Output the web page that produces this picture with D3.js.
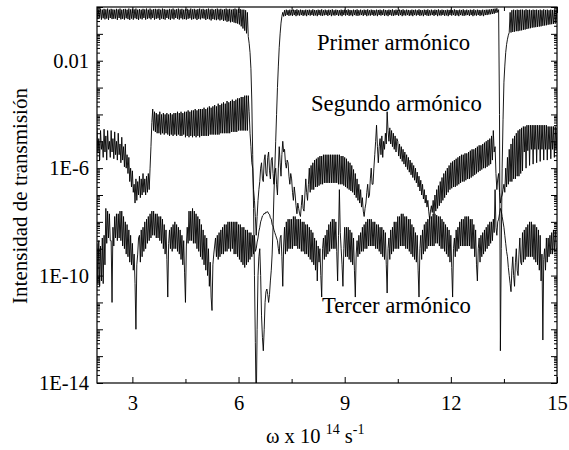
<!DOCTYPE html>
<html><head><meta charset="utf-8">
<script src="https://cdn.jsdelivr.net/npm/d3@7"></script>
<style>
body{margin:0;background:#fff}
svg{display:block}
text{font-family:"Liberation Serif","Times New Roman",serif;fill:#000}
</style>
</head><body>
<svg id="chart" width="569" height="450"></svg>
<script>
// ---------- DATA: log10 of transmission intensity; x grid 2.000 .. 15.000, step 0.025 ----------
const xStart = 2, xStep = 0.025;
const primerLog10 = [
-0.08,-0.45,-0.1,-0.4,-0.06,-0.47,-0.1,-0.42,-0.07,-0.46,-0.09,-0.43,-0.06,-0.48,-0.1,-0.41,-0.07,-0.45,-0.09,-0.44,
-0.1,-0.43,-0.07,-0.48,-0.09,-0.41,-0.06,-0.46,-0.1,-0.44,-0.08,-0.47,-0.07,-0.42,-0.1,-0.45,-0.06,-0.48,-0.09,-0.43,
-0.07,-0.47,-0.09,-0.42,-0.06,-0.45,-0.1,-0.48,-0.08,-0.43,-0.1,-0.46,-0.07,-0.41,-0.09,-0.47,-0.06,-0.44,-0.1,-0.42,
-0.06,-0.46,-0.1,-0.41,-0.08,-0.47,-0.07,-0.44,-0.09,-0.42,-0.07,-0.48,-0.1,-0.43,-0.06,-0.45,-0.08,-0.47,-0.1,-0.41,
-0.1,-0.45,-0.07,-0.48,-0.09,-0.43,-0.06,-0.46,-0.1,-0.41,-0.08,-0.44,-0.06,-0.47,-0.09,-0.42,-0.07,-0.46,-0.1,-0.45,
-0.08,-0.47,-0.07,-0.44,-0.1,-0.42,-0.06,-0.47,-0.09,-0.45,-0.07,-0.43,-0.1,-0.48,-0.08,-0.44,-0.06,-0.46,-0.09,-0.42,
-0.07,-0.43,-0.1,-0.48,-0.08,-0.44,-0.06,-0.46,-0.09,-0.5,-0.07,-0.45,-0.1,-0.47,-0.08,-0.49,-0.06,-0.46,-0.09,-0.5,
-0.07,-0.47,-0.1,-0.52,-0.08,-0.5,-0.06,-0.55,-0.09,-0.53,-0.07,-0.57,-0.1,-0.55,-0.08,-0.58,-0.06,-0.6,-0.09,-0.62,
-0.07,-0.65,-0.08,-0.72,-0.1,-0.8,-0.1,-0.88,-0.12,-0.98,-0.2,-1.1,-1.35,-1.7,-2.3,-3.5,-5.5,-7.5,-10,-12.5,
-15,-12,-10.0,-9.3,-9.0,-10.0,-11.5,-12.3,-12.8,-12.0,-11.0,-10.6,-10.5,-10.7,-11.0,-10.7,-10.2,-9.8,-9.2,-8.2,
-7.0,-6.0,-5.0,-4.0,-3.0,-2.2,-1.5,-1.0,-0.6,-0.35,-0.2,-0.35,-0.12,-0.33,-0.1,-0.3,-0.12,-0.33,-0.1,-0.31,
-0.12,-0.33,-0.1,-0.3,-0.11,-0.34,-0.09,-0.31,-0.12,-0.32,-0.1,-0.3,-0.11,-0.33,-0.12,-0.31,-0.1,-0.34,-0.11,-0.3,
-0.1,-0.32,-0.12,-0.3,-0.09,-0.33,-0.11,-0.31,-0.12,-0.34,-0.1,-0.3,-0.11,-0.32,-0.09,-0.33,-0.12,-0.31,-0.1,-0.3,
-0.12,-0.33,-0.1,-0.3,-0.11,-0.34,-0.09,-0.31,-0.12,-0.32,-0.1,-0.3,-0.11,-0.33,-0.12,-0.31,-0.1,-0.34,-0.11,-0.3,
-0.1,-0.32,-0.12,-0.3,-0.09,-0.33,-0.11,-0.31,-0.12,-0.34,-0.1,-0.3,-0.11,-0.32,-0.09,-0.33,-0.12,-0.31,-0.1,-0.3,
-0.12,-0.33,-0.1,-0.3,-0.11,-0.34,-0.09,-0.31,-0.12,-0.32,-0.1,-0.3,-0.11,-0.33,-0.12,-0.31,-0.1,-0.34,-0.11,-0.3,
-0.1,-0.32,-0.12,-0.3,-0.09,-0.33,-0.11,-0.31,-0.12,-0.34,-0.1,-0.3,-0.11,-0.32,-0.09,-0.33,-0.12,-0.31,-0.1,-0.3,
-0.12,-0.33,-0.1,-0.3,-0.11,-0.34,-0.09,-0.31,-0.12,-0.32,-0.1,-0.3,-0.11,-0.33,-0.12,-0.31,-0.1,-0.34,-0.11,-0.3,
-0.1,-0.32,-0.12,-0.3,-0.09,-0.33,-0.11,-0.31,-0.12,-0.34,-0.1,-0.3,-0.11,-0.32,-0.09,-0.33,-0.12,-0.31,-0.1,-0.3,
-0.12,-0.33,-0.1,-0.3,-0.11,-0.34,-0.09,-0.31,-0.12,-0.32,-0.1,-0.3,-0.11,-0.33,-0.12,-0.31,-0.1,-0.34,-0.11,-0.3,
-0.1,-0.32,-0.12,-0.3,-0.09,-0.33,-0.11,-0.31,-0.12,-0.34,-0.1,-0.3,-0.11,-0.32,-0.09,-0.33,-0.12,-0.31,-0.1,-0.3,
-0.12,-0.33,-0.1,-0.3,-0.11,-0.34,-0.09,-0.31,-0.12,-0.32,-0.1,-0.3,-0.11,-0.33,-0.12,-0.31,-0.1,-0.34,-0.11,-0.3,
-0.1,-0.3,-0.1,-0.28,-0.09,-0.27,-0.08,-0.26,-0.07,-0.25,-0.06,-0.22,-0.05,-0.2,-0.1,-4.0,-12.8,-9.0,-6.0,-4.2,
-2.8,-2.2,-1.7,-1.4,-1.2,-1.05,-0.95,-0.2,-0.95,-0.12,-0.93,-0.1,-0.92,-0.12,-0.9,-0.1,-0.9,-0.11,-0.88,-0.1,
-0.87,-0.1,-0.85,-0.12,-0.84,-0.09,-0.82,-0.11,-0.8,-0.1,-0.79,-0.12,-0.77,-0.1,-0.76,-0.11,-0.75,-0.1,-0.74,-0.12,
-0.73,-0.1,-0.72,-0.12,-0.7,-0.09,-0.69,-0.11,-0.68,-0.1,-0.66,-0.12,-0.65,-0.1,-0.64,-0.11,-0.63,-0.1,-0.62,-0.12,
-0.6];
const segundoLog10 = [
-4.5,-5.4,-4.9,-5.7,-4.6,-5.3,-5.0,-5.6,-4.55,-5.4,-4.8,-5.7,-4.6,-5.3,-5.0,-5.6,-4.6,-5.4,-4.9,-5.65,
-4.65,-5.5,-5.0,-5.7,-4.7,-5.5,-5.1,-5.8,-4.85,-5.7,-5.2,-5.95,-5.1,-6.0,-5.5,-6.2,-5.6,-6.5,-6.0,-6.7,
-6.1,-6.9,-6.6,-7.3,-6.4,-7.2,-6.5,-7.0,-6.3,-7.1,-6.4,-7.0,-6.2,-6.9,-6.4,-7.0,-6.3,-6.9,-6.2,-6.8,
-6.0,-5.2,-4.3,-3.8,-4.6,-3.9,-4.65,-3.95,-4.7,-4.0,-4.7,-3.9,-4.75,-4.0,-4.7,-3.95,-4.75,-4.0,-4.7,-3.95,
-4.75,-4.0,-4.8,-3.95,-4.75,-4.0,-4.8,-3.95,-4.75,-3.95,-4.8,-3.9,-4.75,-3.95,-4.8,-3.9,-4.8,-3.95,-4.75,-3.9,
-4.85,-3.9,-4.8,-3.85,-4.85,-3.9,-4.8,-3.85,-4.85,-3.85,-4.8,-3.8,-4.85,-3.85,-4.8,-3.8,-4.85,-3.8,-4.8,-3.8,
-4.8,-3.75,-4.8,-3.8,-4.8,-3.75,-4.8,-3.7,-4.75,-3.75,-4.75,-3.7,-4.75,-3.65,-4.75,-3.7,-4.75,-3.6,-4.75,-3.65,
-4.7,-3.6,-4.7,-3.55,-4.7,-3.6,-4.7,-3.5,-4.7,-3.55,-4.7,-3.5,-4.65,-3.45,-4.65,-3.5,-4.65,-3.45,-4.65,-3.4,
-4.6,-3.4,-4.6,-3.35,-4.6,-3.35,-4.6,-3.3,-4.6,-3.3,-4.6,-3.3,-3.9,-4.7,-5.2,-5.8,-6.0,-6.8,-7.2,-7.8,
-8.5,-7.8,-7.2,-6.8,-6.5,-6.0,-5.8,-6.4,-6.5,-5.7,-5.5,-6.2,-6.3,-5.6,-5.4,-6.1,-6.4,-5.7,-5.6,-6.2,
-6.6,-6.2,-6.0,-6.6,-7.0,-6.0,-5.2,-5.8,-6.3,-5.5,-5.0,-5.4,-5.3,-5.8,-6.0,-5.7,-5.8,-6.3,-6.6,-6.2,
-6.4,-6.9,-7.2,-6.7,-7.0,-7.4,-7.7,-7.3,-7.5,-7.7,-7.8,-7.4,-7.0,-7.5,-7.6,-7.0,-6.4,-6.9,-7.2,-6.6,
-6.0,-6.9,-5.9,-6.8,-5.8,-6.8,-5.7,-6.7,-5.65,-6.7,-5.6,-6.65,-5.55,-6.6,-5.55,-6.6,-5.5,-6.55,-5.5,-6.55,
-5.5,-6.55,-5.5,-6.55,-5.5,-6.55,-5.5,-6.55,-5.5,-6.55,-5.5,-6.55,-5.5,-6.6,-5.5,-6.6,-5.55,-6.6,-5.55,-6.65,
-5.6,-6.7,-5.65,-6.75,-5.75,-6.8,-5.8,-6.85,-5.9,-6.9,-6.05,-7.0,-6.2,-7.1,-6.4,-7.2,-6.6,-7.3,-6.8,-7.45,
-7.1,-7.6,-7.8,-7.5,-7.3,-6.9,-6.6,-7.1,-7.0,-6.4,-6.0,-6.6,-6.6,-6.0,-5.5,-5.0,-4.4,-5.2,-5.8,-5.2,
-4.9,-5.5,-4.8,-5.6,-5.0,-5.3,-4.7,-5.1,-3.9,-4.6,-5.0,-4.5,-5.1,-4.6,-5.2,-4.7,-5.3,-4.8,-5.4,-4.9,
-5.0,-5.55,-5.1,-5.65,-5.2,-5.75,-5.3,-5.85,-5.4,-5.95,-5.5,-6.05,-5.6,-6.15,-5.7,-6.25,-5.8,-6.35,-5.9,-6.45,
-6.0,-6.55,-6.15,-6.7,-6.3,-6.85,-6.45,-7.0,-6.6,-7.15,-6.8,-7.3,-7.0,-7.45,-7.2,-7.6,-7.9,-7.6,-7.4,-7.65,
-7.2,-7.7,-7.0,-7.6,-6.8,-7.5,-6.65,-7.4,-6.5,-7.3,-6.35,-7.2,-6.2,-7.1,-6.1,-7.0,-6.0,-6.9,-5.9,-6.8,
-5.8,-6.75,-5.75,-6.7,-5.7,-6.7,-5.65,-6.65,-5.6,-6.6,-5.55,-6.55,-5.5,-6.5,-5.5,-6.5,-5.45,-6.45,-5.45,-6.4,
-5.4,-6.4,-5.35,-6.35,-5.3,-6.3,-5.3,-6.25,-5.25,-6.2,-5.2,-6.15,-5.15,-6.1,-5.15,-6.05,-5.1,-6.0,-5.05,-6.0,
-5.0,-5.95,-4.95,-5.9,-4.9,-5.85,-4.8,-5.7,-4.6,-5.4,-5.2,-6.2,-6.8,-6.4,-6.2,-6.9,-7.3,-7.1,-7.0,-6.8,
-6.6,-6.9,-6.0,-6.7,-5.6,-6.6,-5.3,-6.5,-5.1,-6.5,-4.9,-6.4,-4.8,-6.4,-4.7,-6.3,-4.6,-6.3,-4.55,-6.2,
-4.5,-6.1,-4.45,-5.4,-4.45,-6.0,-4.4,-5.35,-4.4,-5.9,-4.4,-5.3,-4.4,-5.85,-4.4,-5.3,-4.4,-5.8,-4.4,-5.3,
-4.4,-5.75,-4.4,-5.3,-4.4,-5.7,-4.4,-5.3,-4.4,-5.7,-4.45,-5.3,-4.45,-5.65,-4.45,-5.3,-4.45,-5.6,-4.45,-5.3,
-4.5];
const tercerLog10 = [
-8.8,-10.3,-8.7,-10.4,-8.9,-10.2,-8.6,-10.3,-8.5,-9.6,-7.5,-8.8,-7.6,-8.6,-7.7,-8.7,-8.7,-11.0,-8.2,-8.9,
-7.8,-8.6,-7.7,-8.7,-7.7,-8.6,-7.6,-8.7,-7.6,-8.9,-7.8,-9.0,-8.0,-9.2,-8.1,-9.3,-8.3,-9.5,-8.5,-9.6,
-8.8,-9.8,-9.2,-10.3,-12.0,-9.6,-9.2,-8.6,-8.5,-9.5,-8.3,-9.3,-8.2,-9.1,-8.0,-9.0,-7.9,-8.8,-7.8,-8.7,
-7.7,-8.6,-7.6,-8.5,-7.6,-8.5,-7.7,-8.6,-7.7,-8.6,-7.8,-8.7,-7.8,-8.8,-7.9,-9.0,-8.1,-9.2,-8.3,-9.4,
-10.8,-8.8,-8.3,-9.0,-8.2,-9.1,-8.1,-9.0,-8.0,-9.0,-8.1,-9.1,-8.2,-9.2,-8.3,-9.4,-8.5,-9.6,-8.7,-9.9,
-11.0,-8.9,-8.2,-8.8,-7.6,-8.7,-7.6,-8.7,-7.5,-8.8,-7.6,-8.8,-7.7,-9.0,-7.8,-9.1,-7.9,-9.3,-8.1,-9.4,
-8.3,-9.6,-8.5,-9.8,-8.6,-10.0,-9.0,-10.4,-9.5,-10.8,-11.3,-9.6,-9.2,-8.9,-8.6,-9.3,-8.5,-9.4,-8.4,-9.3,
-8.3,-9.2,-8.2,-9.2,-8.1,-9.1,-8.1,-9.1,-8.0,-9.0,-8.0,-9.1,-8.0,-9.0,-8.0,-9.2,-8.0,-9.2,-8.0,-9.3,
-8.1,-9.4,-8.1,-9.5,-8.2,-9.6,-8.2,-9.7,-8.3,-9.6,-8.3,-9.5,-8.4,-9.4,-8.4,-9.3,-8.5,-9.2,-8.5,-9.1,
-9.0,-8.75,-8.6,-8.35,-8.2,-8.0,-7.9,-7.78,-7.75,-7.68,-7.7,-7.63,-7.65,-7.62,-7.7,-7.72,-7.85,-7.9,-8.1,-8.15,
-8.3,-8.4,-8.5,-8.6,-8.7,-9.0,-9.2,-8.6,-8.5,-9.3,-10.4,-8.9,-8.2,-9.2,-8.0,-9.1,-7.9,-9.0,-7.9,-9.0,
-7.9,-9.0,-7.8,-8.9,-7.8,-8.9,-7.9,-9.0,-7.9,-9.0,-7.9,-9.1,-8.0,-9.1,-8.0,-9.2,-8.1,-9.2,-8.1,-9.3,
-8.2,-9.4,-8.3,-9.5,-8.4,-9.6,-8.6,-9.8,-8.7,-10.2,-8.9,-9.5,-9.0,-10.0,-10.8,-9.0,-8.6,-9.4,-8.5,-9.3,
-8.3,-9.2,-8.1,-9.1,-8.0,-9.0,-7.9,-9.0,-7.9,-9.0,-8.0,-9.1,-10.2,-8.5,-6.8,-8.4,-9.0,-9.6,-10.4,-9.0,
-8.2,-9.3,-8.2,-9.3,-8.2,-9.4,-8.3,-9.5,-8.4,-9.6,-8.6,-9.8,-10.8,-9.2,-8.7,-9.3,-8.5,-9.2,-8.4,-9.1,
-8.2,-9.1,-8.1,-9.0,-8.0,-9.0,-7.9,-8.9,-7.9,-8.9,-7.9,-8.9,-8.0,-8.9,-8.0,-9.0,-8.1,-9.0,-8.1,-9.1,
-8.2,-9.2,-8.2,-9.3,-8.3,-9.4,-8.4,-9.6,-10.65,-9.0,-8.6,-9.4,-8.3,-9.2,-8.2,-9.1,-8.0,-9.0,-8.0,-9.0,
-7.8,-9.0,-7.8,-8.9,-7.7,-8.9,-7.7,-8.9,-7.8,-9.0,-7.8,-9.0,-7.9,-9.1,-7.9,-9.2,-8.1,-9.3,-8.2,-9.4,
-8.4,-9.5,-8.5,-9.8,-10.8,-9.0,-8.5,-9.4,-8.3,-9.2,-8.1,-9.1,-8.0,-9.0,-7.9,-8.9,-7.8,-8.9,-7.8,-8.9,
-7.7,-8.9,-7.7,-8.8,-7.75,-8.8,-7.8,-8.9,-7.8,-9.0,-7.9,-9.0,-8.0,-9.1,-8.1,-9.2,-8.2,-9.3,-8.3,-9.5,
-8.5,-9.7,-10.8,-9.0,-8.6,-9.3,-8.3,-9.1,-8.2,-9.0,-8.0,-8.9,-7.9,-8.9,-7.9,-8.9,-7.8,-8.9,-7.8,-8.9,
-7.8,-8.9,-7.9,-9.0,-7.9,-9.0,-8.1,-9.3,-8.3,-9.6,-10.2,-9.0,-8.6,-9.5,-8.5,-9.3,-8.4,-9.2,-8.3,-9.1,
-8.2,-9.0,-8.1,-8.9,-8.0,-8.8,-8.0,-8.7,-7.9,-8.4,-6.8,-8.2,-8.5,-8.0,-7.9,-7.7,-7.5,-7.6,-7.8,-8.0,
-8.2,-8.5,-8.8,-9.1,-9.3,-9.7,-10.0,-10.3,-10.6,-9.8,-9.3,-10.0,-10.4,-9.5,-9.0,-9.8,-10.0,-9.2,-8.6,-9.5,
-9.6,-8.4,-9.5,-8.3,-9.4,-8.2,-9.3,-8.1,-9.3,-8.0,-9.3,-8.0,-9.3,-8.1,-9.4,-8.1,-9.5,-8.2,-9.6,-8.3,
-9.8,-8.5,-10.2,-9.2,-12.4,-9.4,-9.0,-9.8,-8.6,-9.5,-8.6,-9.3,-8.5,-9.2,-8.4,-9.2,-8.3,-9.1,-8.3,-9.0,
-9.0];
const xTickValues = [3, 6, 9, 12, 15];
const xMinorTickValues = [4.5, 7.5, 10.5, 13.5];
const yTickValues = [1e-14, 1e-10, 1e-6, 1e-2];
const yTickLabels = ["1E-14", "1E-10", "1E-6", "0.01"];
const seriesLabels = ["Primer armónico", "Segundo armónico", "Tercer armónico"];
const yTitle = "Intensidad de transmisión";

// ---------- CHART ----------
(function () {
const svg = d3.select("#chart");
const pL = 97, pR = 557, pT = 7, pB = 383;
const x = d3.scaleLinear().domain([2, 15]).range([pL, pR]);
const y = d3.scaleLog().domain([1e-14, 1]).range([pB, pT]);

svg.append("defs").append("clipPath").attr("id", "clip")
  .append("rect").attr("x", pL).attr("y", pT).attr("width", pR - pL).attr("height", pB - pT);

function toPoints(arr) { return arr.map((v, i) => [xStart + i * xStep, Math.pow(10, v)]); }
const line = d3.line().x(d => x(d[0])).y(d => y(d[1]));

const g = svg.append("g").attr("clip-path", "url(#clip)");
[primerLog10, segundoLog10, tercerLog10].forEach(s => {
  g.append("path").datum(toPoints(s)).attr("d", line)
    .attr("fill", "none").attr("stroke", "#000").attr("stroke-width", 0.9).attr("stroke-linejoin", "miter");
});

const decades = d3.range(-14, 1).map(e => Math.pow(10, e));
const minorY = [];
d3.range(-14, 0).forEach(e => { for (let k = 2; k <= 9; k++) minorY.push(k * Math.pow(10, e)); });

function cleanAxis(sel) { sel.select(".domain").remove(); sel.selectAll("line").attr("stroke", "#000"); }

svg.append("g").attr("transform", `translate(${pL},0)`)
  .call(d3.axisLeft(y).tickValues(minorY).tickSize(-3).tickFormat("")).call(cleanAxis);
svg.append("g").attr("transform", `translate(${pL},0)`)
  .call(d3.axisLeft(y).tickValues(decades).tickSize(-6).tickFormat("")).call(cleanAxis);
svg.append("g").attr("transform", `translate(${pR},0)`)
  .call(d3.axisRight(y).tickValues(minorY).tickSize(-3).tickFormat("")).call(cleanAxis);
svg.append("g").attr("transform", `translate(${pR},0)`)
  .call(d3.axisRight(y).tickValues(decades).tickSize(-6).tickFormat("")).call(cleanAxis);
const yl = svg.append("g").attr("transform", `translate(${pL},0)`)
  .call(d3.axisLeft(y).tickValues(yTickValues).tickSize(0).tickPadding(8)
    .tickFormat((d, i) => yTickLabels[i])).call(cleanAxis);
yl.selectAll("text").attr("font-size", 20.5).attr("font-family", "Liberation Serif");

svg.append("g").attr("transform", `translate(0,${pB})`)
  .call(d3.axisBottom(x).tickValues(xMinorTickValues).tickSize(-4).tickFormat("")).call(cleanAxis);
const xb = svg.append("g").attr("transform", `translate(0,${pB})`)
  .call(d3.axisBottom(x).tickValues(xTickValues).tickSize(-6).tickPadding(12).tickFormat(d3.format("d"))).call(cleanAxis);
xb.selectAll("text").attr("font-size", 20.5).attr("font-family", "Liberation Serif");
svg.append("g").attr("transform", `translate(0,${pT})`)
  .call(d3.axisTop(x).tickValues(xMinorTickValues).tickSize(-4).tickFormat("")).call(cleanAxis);
svg.append("g").attr("transform", `translate(0,${pT})`)
  .call(d3.axisTop(x).tickValues(xTickValues).tickSize(-6).tickFormat("")).call(cleanAxis);

svg.append("rect").attr("x", pL).attr("y", pT).attr("width", pR - pL).attr("height", pB - pT)
  .attr("fill", "none").attr("stroke", "#000").attr("stroke-width", 1.2);

const ann = [[317, 50], [311, 111], [322, 313]];
seriesLabels.forEach((t, i) => {
  svg.append("text").attr("x", ann[i][0]).attr("y", ann[i][1]).attr("font-size", 22.7).text(t);
});
svg.append("text").attr("transform", "translate(27,196) rotate(-90)").attr("text-anchor", "middle")
  .attr("font-size", 21).text(yTitle);
const xt = svg.append("text").attr("x", 266).attr("y", 443).attr("font-size", 20.5);
xt.append("tspan").text("ω x 10 ");
xt.append("tspan").attr("font-size", 14).attr("dy", -9).text("14");
xt.append("tspan").attr("dy", 9).text(" s");
xt.append("tspan").attr("font-size", 14).attr("dy", -9).text("-1");
})();
</script>
</body></html>
